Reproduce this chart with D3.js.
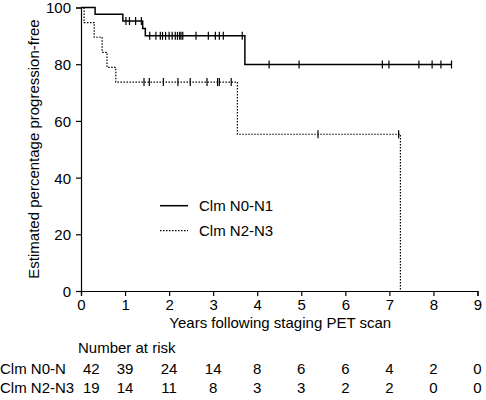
<!DOCTYPE html>
<html><head><meta charset="utf-8">
<script src="https://cdn.jsdelivr.net/npm/d3@7"></script>
<style>body{margin:0;background:#fff}svg{display:block}text{font-family:"Liberation Sans",Arial,sans-serif;fill:#000}</style>
</head><body>
<script>
// Kaplan-Meier step data (years, % progression-free)
const n01Times = [0, 0.32, 0.95, 1.40, 1.46, 3.72, 8.41];
const n01Surv  = [100, 97.6, 95.2, 92.6, 90.0, 79.9, 79.9];
const n01Censor = [1.02, 1.10, 1.24, 1.37, 1.56, 1.70, 1.80, 1.85, 1.92, 2.00, 2.07, 2.14, 2.19, 2.24, 2.27, 2.31, 2.61, 2.89, 3.05, 3.14, 3.23, 3.66, 4.27, 4.95, 6.84, 6.99, 7.67, 7.97, 8.17, 8.41];
const n23Times = [0, 0.07, 0.30, 0.48, 0.59, 0.79, 3.55, 7.25];
const n23Surv  = [100, 94.7, 89.5, 84.2, 78.9, 73.7, 55.3, 0];
const n23Censor = [1.43, 1.55, 1.87, 2.20, 2.48, 2.86, 3.10, 3.14, 3.41, 5.38, 7.21];
const xTicks = [0,1,2,3,4,5,6,7,8,9];
const yTicks = [0,20,40,60,80,100];
const seriesNames = ["Clm N0-N1", "Clm N2-N3"];
const riskLabels = ["Clm N0-N", "Clm N2-N3"];
const riskN01 = [42, 39, 24, 14, 8, 6, 6, 4, 2, 0];
const riskN23 = [19, 14, 11, 8, 3, 3, 2, 2, 0, 0];

const W = 486, H = 400;
const svg = d3.select("body").append("svg").attr("width", W).attr("height", H);
const x = d3.scaleLinear().domain([0, 9]).range([81, 477.5]);
const y = d3.scaleLinear().domain([0, 100]).range([291, 7.5]);
const FS = 15;

// axes
const gx = svg.append("g").attr("transform", `translate(0,${y(0)})`)
  .call(d3.axisBottom(x).tickValues(xTicks).tickFormat(d3.format("d")).tickSizeOuter(0).tickSize(5));
const gy = svg.append("g").attr("transform", `translate(${x(0)},0)`)
  .call(d3.axisLeft(y).tickValues(yTicks).tickSizeOuter(0).tickSize(5));
[gx, gy].forEach(g => {
  g.selectAll("path,line").attr("stroke", "#000").attr("stroke-width", 1.2);
  g.selectAll("text").attr("font-size", FS).attr("font-family", "Liberation Sans, Arial, sans-serif").attr("fill", "#000");
});
gx.selectAll("text").attr("dy", null).attr("y", 19);
gy.selectAll("text").attr("x", -10).attr("dy", "0.36em");

// axis titles
svg.append("text").attr("x", (x(0) + x(9)) / 2 + 1).attr("y", 328)
  .attr("text-anchor", "middle").attr("font-size", FS).text("Years following staging PET scan");
svg.append("text").attr("transform", `translate(39,${149}) rotate(-90)`)
  .attr("text-anchor", "middle").attr("font-size", FS).text("Estimated percentage progression-free");

// curves
function stepVal(times, surv, t) {
  let v = surv[0];
  for (let i = 0; i < times.length; i++) if (times[i] <= t) v = surv[i];
  return v;
}
const line = d3.line().x(d => x(d[0])).y(d => y(d[1])).curve(d3.curveStepAfter);
const series = [
  {times: n01Times, surv: n01Surv, censor: n01Censor, dash: null, w: 1.5},
  {times: n23Times, surv: n23Surv, censor: n23Censor, dash: "1.5,1.5", w: 1.2}
];
series.forEach(s => {
  const pts = s.times.map((t, i) => [t, s.surv[i]]);
  svg.append("path").attr("d", line(pts)).attr("fill", "none")
    .attr("stroke", "#000").attr("stroke-width", s.w).attr("stroke-dasharray", s.dash);
  svg.append("g").selectAll("line").data(s.censor).join("line")
    .attr("x1", d => x(d)).attr("x2", d => x(d))
    .attr("y1", d => y(stepVal(s.times, s.surv, d)) - 4)
    .attr("y2", d => y(stepVal(s.times, s.surv, d)) + 4)
    .attr("stroke", "#000").attr("stroke-width", 1.2);
});

// legend
series.forEach((s, i) => {
  const ly = 205.7 + i * 25;
  svg.append("line").attr("x1", 160).attr("x2", 188).attr("y1", ly).attr("y2", ly)
    .attr("stroke", "#000").attr("stroke-width", s.w).attr("stroke-dasharray", s.dash);
  svg.append("text").attr("x", 199).attr("y", ly + 5.4).attr("font-size", FS).text(seriesNames[i]);
});

// number at risk
svg.append("text").attr("x", 78).attr("y", 353).attr("font-size", FS).text("Number at risk");
[riskN01, riskN23].forEach((row, r) => {
  const by = 374 + r * 19;
  svg.append("text").attr("x", 0).attr("y", by).attr("font-size", FS).text(riskLabels[r]);
  svg.append("g").selectAll("text").data(row).join("text")
    .attr("x", (d, i) => i === 0 ? x(0) + 2 : x(xTicks[i]))
    .attr("y", by).attr("font-size", FS)
    .attr("text-anchor", (d, i) => i === 0 ? "start" : "middle")
    .text(d => d);
});
</script>
</body></html>
